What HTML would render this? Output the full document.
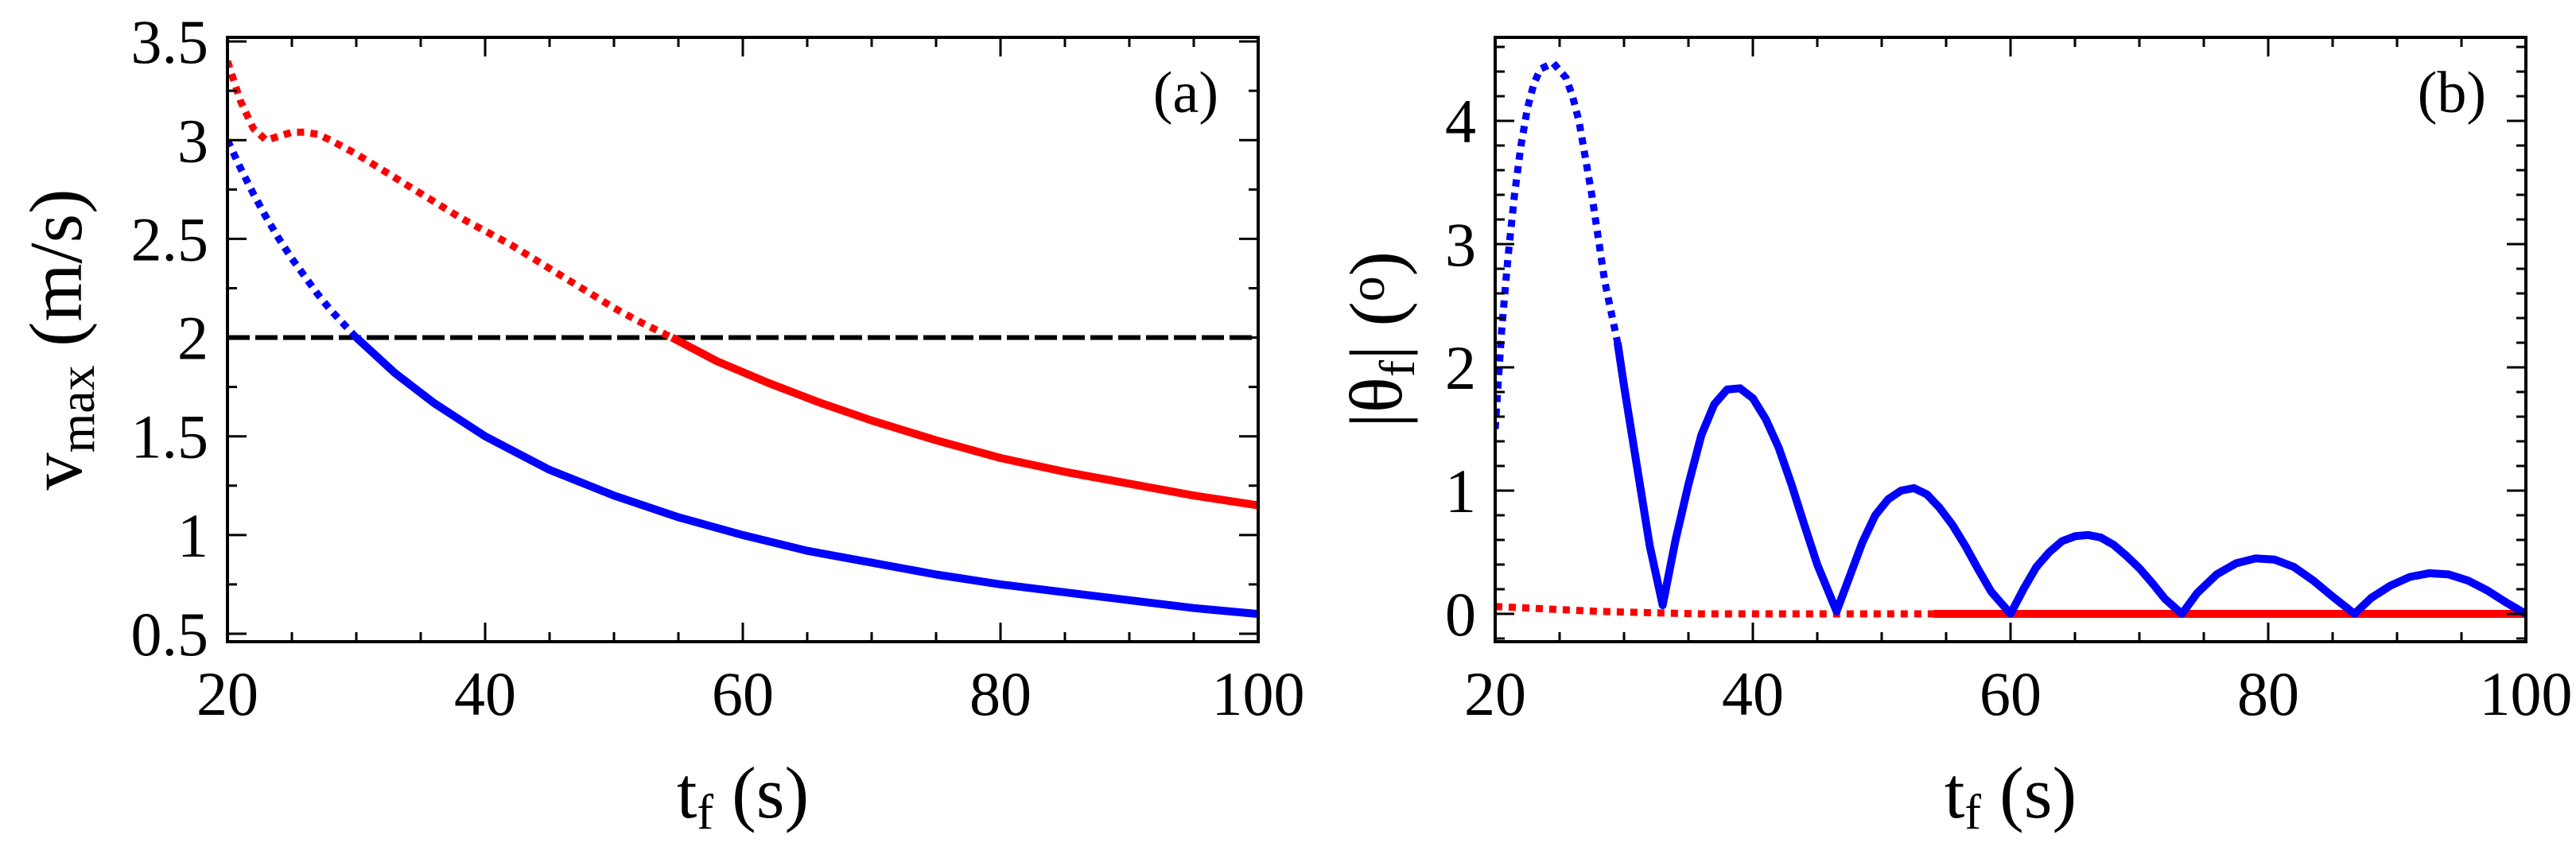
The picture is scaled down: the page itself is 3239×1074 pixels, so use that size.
<!DOCTYPE html>
<html><head><meta charset="utf-8"><style>
html,body{margin:0;padding:0;background:#fff;}
svg{display:block;font-family:"Liberation Serif",serif;}
</style></head><body>
<svg id="fig" width="3239" height="1074" viewBox="0 0 3239 1074" xmlns="http://www.w3.org/2000/svg">
<rect width="3239" height="1074" fill="#fff"/>
</svg>
<script>
// ---- data panel (a) ----
const aRedDotX = [20,21,22,23,24,25,26,27,28,30,32,34,36,38,40,42,44,46,48,50,52,54.5];
const aRedDotY = [3.4,3.2,3.06,3.0,3.02,3.04,3.04,3.03,3.0,2.93,2.85,2.77,2.69,2.61,2.54,2.47,2.39,2.31,2.23,2.15,2.08,2.0];
const aRedX = [54.5,58,62,66,70,75,80,85,90,95,100];
const aRedY = [2.0,1.88,1.77,1.67,1.58,1.48,1.39,1.32,1.26,1.2,1.15];
const aBlueDotX = [20,21,22,23,24,25,26,27,28,29,30];
const aBlueDotY = [3.0,2.86,2.73,2.61,2.5,2.4,2.31,2.22,2.14,2.07,2.0];
const aBlueX = [30,33,36,40,45,50,55,60,65,70,75,80,85,90,95,100];
const aBlueY = [2.0,1.82,1.67,1.5,1.33,1.2,1.09,1.0,0.92,0.86,0.8,0.75,0.71,0.67,0.63,0.6];
const aRefY = 2;
const aYTicks = [0.5,1,1.5,2,2.5,3,3.5];
const aYTickLabels = ["0.5","1","1.5","2","2.5","3","3.5"];
const xTicks = [20,40,60,80,100];
const xTickLabels = ["20","40","60","80","100"];
// ---- data panel (b) ----
const bBlueDotX = [20,20.5,21,21.5,22,22.5,23,23.5,24.5,25.5,26,26.5,27,27.5,28,28.5,29,29.5];
const bBlueDotY = [1.5,2.3,2.9,3.4,3.8,4.1,4.3,4.42,4.47,4.35,4.2,4.0,3.7,3.4,3.05,2.7,2.45,2.2];
const bBlueX = [29.5,30,31,32,33,34,35,36,37,38,39,40,41,42,43,44,45,46.5,47.5,48.5,49.5,50.5,51.5,52.5,53.5,54.5,55.5,56.5,57.5,58.5,60,61,62,63,64,65,66,67,68,69,70,71,72,73.3,74.5,76,77.5,79,80.5,82,83.5,85,86.7,88,89.5,91,92.5,94,95.5,97,98.5,100];
const bBlueY = [2.2,1.85,1.2,0.55,0.07,0.6,1.05,1.45,1.7,1.82,1.83,1.75,1.58,1.35,1.05,0.72,0.4,0.02,0.3,0.58,0.8,0.93,1.0,1.02,0.97,0.86,0.72,0.55,0.36,0.18,0.0,0.2,0.38,0.5,0.59,0.63,0.64,0.62,0.56,0.47,0.37,0.25,0.12,0.0,0.17,0.32,0.41,0.45,0.44,0.38,0.27,0.14,0.0,0.13,0.23,0.3,0.33,0.32,0.27,0.19,0.09,0.0];
const bRedDotX = [20,24,28,32,36,45,54];
const bRedDotY = [0.06,0.04,0.02,0.01,0.0,0.0,0.0];
const bRedX = [54,100];
const bRedY = [0,0];
const bYTicks = [0,1,2,3,4];
const bYTickLabels = ["0","1","2","3","4"];

const NS = "http://www.w3.org/2000/svg";
const svg = document.getElementById('fig');
function mk(tag, attrs, parent){const e=document.createElementNS(NS,tag);for(const k in attrs)e.setAttribute(k,attrs[k]);(parent||svg).appendChild(e);return e;}

function panel(cfg){
  const g = mk('g',{});
  
  
  const L=cfg.L,R=cfg.R,T=47,B=807;
  const sx = v => L + (v-20)/80*(R-L);
  const sy = v => cfg.y0px - (v-cfg.y0)*cfg.ppu;
  const cid = cfg.name+'-clip';
  const cp = mk('clipPath',{id:cid},g); mk('rect',{x:L,y:T,width:R-L,height:B-T},cp);
  const plot = mk('g',{'clip-path':'url(#'+cid+')'},g);
  function line(xs,ys,color,dotted,name){
    const p = mk('polyline',{points:xs.map((x,i)=>sx(x).toFixed(1)+','+sy(ys[i]).toFixed(1)).join(' '),fill:'none',stroke:color,'stroke-width':dotted?9:10,'stroke-linejoin':'round'},plot);
    if(dotted){p.setAttribute('stroke-dasharray','9 8');}
    
    
  }
  cfg.draw(line,sx,sy,plot);
  const tk = mk('g',{stroke:'#000','stroke-width':3},g);
  for(let v=20; v<=100; v+=5){
    const len = (v%20===0)?24:12; const x=sx(v);
    mk('line',{x1:x,y1:B,x2:x,y2:B-len},tk); mk('line',{x1:x,y1:T,x2:x,y2:T+len},tk);
  }
  for(let v=cfg.ymin; v<=cfg.ymax+1e-9; v+=cfg.minor){
    const vv=Math.round(v*1000)/1000; const y=sy(vv);
    if(y<T+2||y>B-2) continue;
    const major = cfg.yTicks.some(t=>Math.abs(t-vv)<1e-6);
    const len = major?24:12;
    mk('line',{x1:L,y1:y,x2:L+len,y2:y},tk); mk('line',{x1:R,y1:y,x2:R-len,y2:y},tk);
  }
  mk('rect',{x:L,y:T,width:R-L,height:B-T,fill:'none',stroke:'#000','stroke-width':4},g);
  xTicks.forEach((v,i)=>{
    const t=mk('text',{x:sx(v),y:899,'font-size':78,'text-anchor':'middle'},g); t.textContent=xTickLabels[i];
    
    
  });
  cfg.yTicks.forEach((v,i)=>{
    const t=mk('text',{x:L-24,y:sy(v)+27,'font-size':78,'text-anchor':'end'},g); t.textContent=cfg.yTickLabels[i];
    
    
  });
  const pl=mk('text',{x:R-50,y:141,'font-size':74,'text-anchor':'end'},g); pl.textContent=cfg.letter;
  
  
  const xt=mk('text',{x:(L+R)/2,y:1028,'font-size':92,'text-anchor':'middle'},g);
  xt.innerHTML='t<tspan font-size="62" dy="14">f</tspan><tspan dy="-14"> (s)</tspan>';
  
  
  const yt=mk('text',{x:0,y:0,'font-size':94,'text-anchor':'middle',transform:'translate('+cfg.ytX+','+((T+B)/2)+') rotate(-90)'},g);
  yt.innerHTML=cfg.ytitle;
  
  
}

panel({name:'panel-a',L:286,R:1582,y0:0.5,y0px:797,ppu:248.3,ymin:0.5,ymax:3.5,minor:0.25,
  yTicks:aYTicks,yTickLabels:aYTickLabels,letter:'(a)',ytX:102,
  ytitle:'v<tspan font-size="64" dy="16">max</tspan><tspan dy="-16"> (m/s)</tspan>',
  draw:(line,sx,sy,plot)=>{
    const d=mk('line',{x1:sx(20),y1:sy(aRefY),x2:sx(100),y2:sy(aRefY),stroke:'#000','stroke-width':6,'stroke-dasharray':'28 7'},plot);
    
    
    line(aRedDotX,aRedDotY,'#ff0000',true,'red-dotted-curve');
    line(aRedX,aRedY,'#ff0000',false,'red-solid-curve');
    line(aBlueDotX,aBlueDotY,'#0000ff',true,'blue-dotted-curve');
    line(aBlueX,aBlueY,'#0000ff',false,'blue-solid-curve');
  }});
panel({name:'panel-b',L:1880,R:3176,y0:0,y0px:772,ppu:155,ymin:-0.2,ymax:4.6,minor:0.2,
  yTicks:bYTicks,yTickLabels:bYTickLabels,letter:'(b)',ytX:1762,
  ytitle:'|θ<tspan font-size="64" dy="16">f</tspan><tspan dy="-16">| (</tspan><tspan font-size="64" dy="-22">o</tspan><tspan dy="22">)</tspan>',
  draw:(line,sx,sy,plot)=>{
    line(bRedDotX,bRedDotY,'#ff0000',true,'red-dotted-curve');
    line(bRedX,bRedY,'#ff0000',false,'red-solid-curve');
    line(bBlueDotX,bBlueDotY,'#0000ff',true,'blue-dotted-curve');
    line(bBlueX,bBlueY,'#0000ff',false,'blue-solid-curve');
  }});
</script>
</body></html>
